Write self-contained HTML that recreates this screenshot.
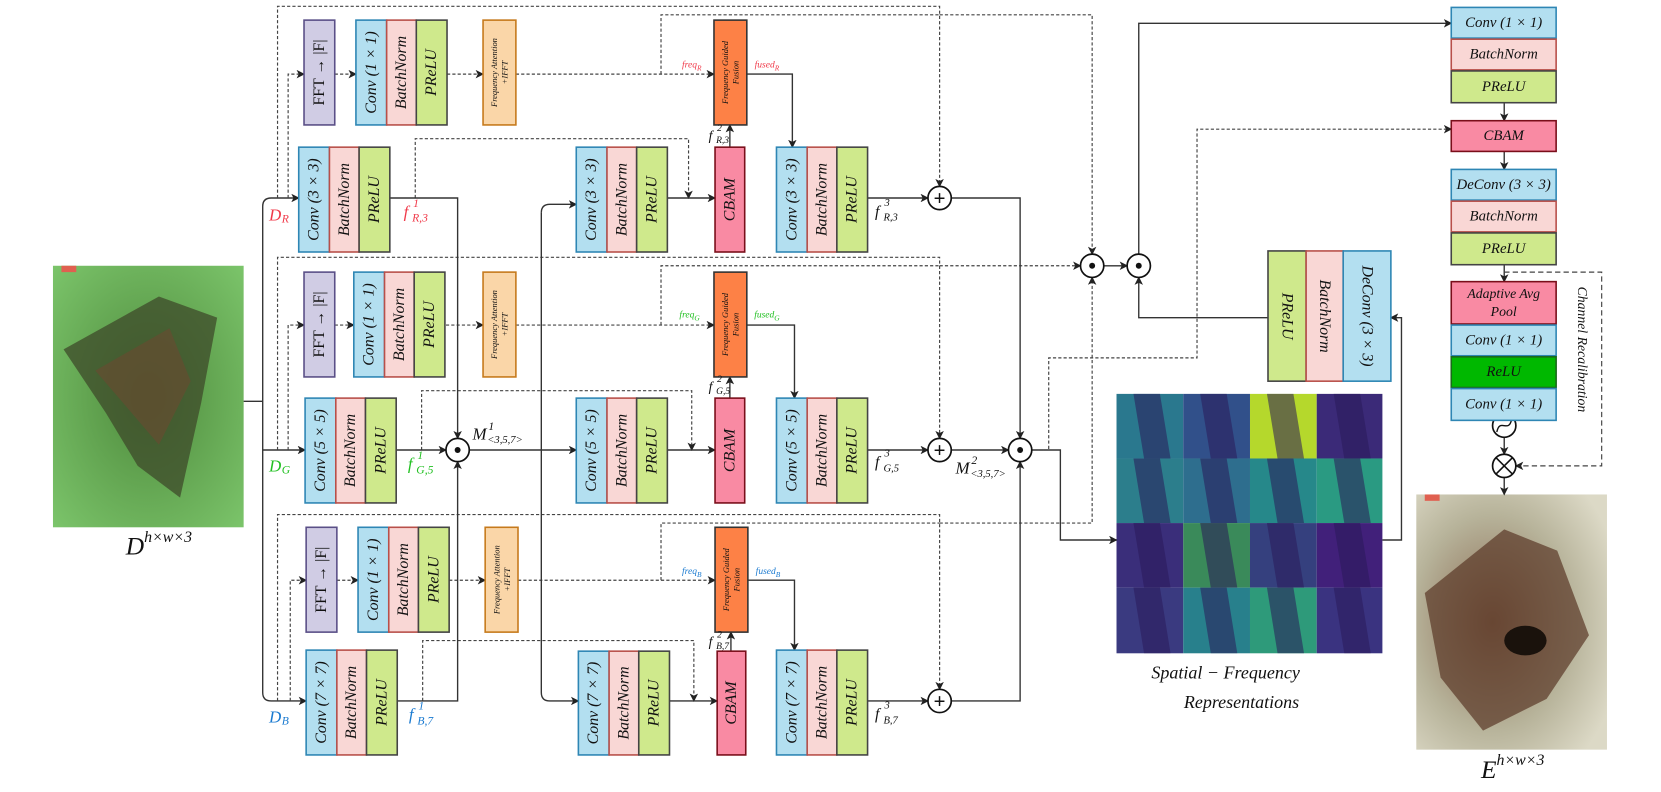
<!DOCTYPE html>
<html><head><meta charset="utf-8"><style>
html,body{margin:0;padding:0;background:#fff;}
svg{display:block}
.c{fill:#b3dff0;stroke:#2e86b4;stroke-width:1.5}
.b{fill:#f9d7d5;stroke:#b8504a;stroke-width:1.5}
.p{fill:#cfe98c;stroke:#444;stroke-width:1.5}
.f{fill:#d0cce4;stroke:#5a4f87;stroke-width:1.5}
.a{fill:#fad6a8;stroke:#c67a1c;stroke-width:1.5}
.g{fill:#fd8146;stroke:#333;stroke-width:1.5}
.m{fill:#f98aa3;stroke:#7a0e1a;stroke-width:1.5}
.r{fill:#00b800;stroke:#1a6a1a;stroke-width:1.5}
text{font-family:"Liberation Serif",serif;font-style:italic;font-size:15px;fill:#111;text-anchor:middle;dominant-baseline:central}
.st{text-anchor:start}
.s{font-size:8px}
.n{font-style:normal}
.L{fill:none;stroke:#333;stroke-width:1.3}
.D{fill:none;stroke:#444;stroke-width:1.1;stroke-dasharray:3,2}
.o{fill:#fff;stroke:#111;stroke-width:1.6}
</style></head><body>
<svg width="1661" height="792" viewBox="0 0 1568 748" preserveAspectRatio="none" xmlns="http://www.w3.org/2000/svg">
<defs>
<marker id="ar" markerWidth="8" markerHeight="8" refX="7" refY="4" orient="auto" markerUnits="userSpaceOnUse"><path d="M0,0 L8,4 L0,8 L2,4 z" fill="#222"/></marker>
<radialGradient id="gi" cx="0.5" cy="0.5" r="0.7"><stop offset="0" stop-color="#4e8a3c"/><stop offset="1" stop-color="#7bc46a"/></radialGradient>
<radialGradient id="go" cx="0.4" cy="0.5" r="0.7"><stop offset="0" stop-color="#8a6a52"/><stop offset="0.6" stop-color="#b7b39a"/><stop offset="1" stop-color="#dcd9c6"/></radialGradient>
</defs>

<!-- input image -->
<rect x="50" y="251" width="180" height="247" fill="url(#gi)"/>
<path d="M60,330 L150,280 L205,300 L190,380 L170,470 L130,440 L100,390 Z" fill="#3e4a2a" opacity="0.75"/>
<path d="M90,350 L160,310 L180,360 L150,420 Z" fill="#6a4a30" opacity="0.6"/>
<rect x="58" y="251" width="14" height="6" fill="#e06050"/>
<text x="150" y="516" style="font-size:24px">D<tspan dy="-9" style="font-size:15px">h×w×3</tspan></text>

<!-- output image -->
<rect x="1337" y="467" width="180" height="241" fill="url(#go)"/>
<path d="M1345,560 L1420,500 L1470,520 L1500,600 L1460,660 L1400,690 L1360,640 Z" fill="#5a3826" opacity="0.7"/>
<ellipse cx="1440" cy="605" rx="20" ry="14" fill="#1a120c"/>
<rect x="1345" y="467" width="14" height="6" fill="#e06050"/>
<text x="1428" y="727" style="font-size:24px">E<tspan dy="-9" style="font-size:15px">h×w×3</tspan></text>

<!-- spatial grid -->
<g>
<rect x="1054" y="372" width="63" height="61" fill="#2a788e"/><rect x="1117" y="372" width="63" height="61" fill="#31508a"/><rect x="1180" y="372" width="63" height="61" fill="#b5d82c"/><rect x="1243" y="372" width="62" height="61" fill="#3b2a78"/>
<rect x="1054" y="433" width="63" height="61" fill="#2c7e8c"/><rect x="1117" y="433" width="63" height="61" fill="#2e6e8e"/><rect x="1180" y="433" width="63" height="61" fill="#26888a"/><rect x="1243" y="433" width="62" height="61" fill="#2a9a82"/>
<rect x="1054" y="494" width="63" height="61" fill="#3a2e7a"/><rect x="1117" y="494" width="63" height="61" fill="#3a8a5a"/><rect x="1180" y="494" width="63" height="61" fill="#35407e"/><rect x="1243" y="494" width="62" height="61" fill="#41207a"/>
<rect x="1054" y="555" width="63" height="62" fill="#3a3a80"/><rect x="1117" y="555" width="63" height="62" fill="#28808c"/><rect x="1180" y="555" width="63" height="62" fill="#2e9a7a"/><rect x="1243" y="555" width="62" height="62" fill="#3a3380"/>
<path d="M1070,372 L1095,372 L1105,433 L1080,433Z M1133,372 L1158,372 L1168,433 L1143,433Z M1196,372 L1221,372 L1231,433 L1206,433Z M1259,372 L1284,372 L1294,433 L1269,433Z M1070,433 L1095,433 L1105,494 L1080,494Z M1133,433 L1158,433 L1168,494 L1143,494Z M1196,433 L1221,433 L1231,494 L1206,494Z M1259,433 L1284,433 L1294,494 L1269,494Z M1070,494 L1095,494 L1105,555 L1080,555Z M1133,494 L1158,494 L1168,555 L1143,555Z M1196,494 L1221,494 L1231,555 L1206,555Z M1259,494 L1284,494 L1294,555 L1269,555Z M1070,555 L1095,555 L1105,617 L1080,617Z M1133,555 L1158,555 L1168,617 L1143,617Z M1196,555 L1221,555 L1231,617 L1206,617Z M1259,555 L1284,555 L1294,617 L1269,617Z" fill="#2a1a5a" opacity="0.55"/>
</g>
<text x="1157" y="635" style="font-size:17px">Spatial − Frequency</text>
<text x="1172" y="663" style="font-size:17px">Representations</text>

<!-- ============ connectors ============ -->
<path class="L" d="M230,379 H248 M248,195 V654 M248,195 Q248,187 256,187 H282" marker-end="url(#ar)"/>
<path class="L" d="M248,425 H288" marker-end="url(#ar)"/>
<path class="L" d="M248,654 Q248,662 256,662 H289" marker-end="url(#ar)"/>
<path class="D" d="M272,187 V70 H287" marker-end="url(#ar)"/>
<path class="D" d="M272,425 V307 H287" marker-end="url(#ar)"/>
<path class="D" d="M274,662 V548 H289" marker-end="url(#ar)"/>
<path class="D" d="M262,187 V6 H887 V176" marker-end="url(#ar)"/>
<path class="D" d="M262,425 V243 H887 V414" marker-end="url(#ar)"/>
<path class="D" d="M262,662 V486 H887 V651" marker-end="url(#ar)"/>
<path class="D" d="M887,14 H1031 V240" marker-end="url(#ar)"/>
<path class="D" d="M887,251 H1020" marker-end="url(#ar)"/>
<path class="D" d="M887,494 H1031 V262" marker-end="url(#ar)"/>
<path class="D" d="M316,70 H336" marker-end="url(#ar)"/><path class="D" d="M422,70 H456" marker-end="url(#ar)"/><path class="D" d="M487,70 H674" marker-end="url(#ar)"/>
<path class="D" d="M316,307 H334" marker-end="url(#ar)"/><path class="D" d="M421,307 H456" marker-end="url(#ar)"/><path class="D" d="M487,307 H674" marker-end="url(#ar)"/>
<path class="D" d="M318,548 H338" marker-end="url(#ar)"/><path class="D" d="M424,548 H458" marker-end="url(#ar)"/><path class="D" d="M489,548 H675" marker-end="url(#ar)"/>
<path class="D" d="M624,70 V14 H887"/>
<path class="D" d="M624,307 V251 H887"/>
<path class="D" d="M624,548 V494 H887"/>
<path class="D" d="M392,187 V131 H650 V187" marker-end="url(#ar)"/>
<path class="D" d="M398,425 V369 H653 V425" marker-end="url(#ar)"/>
<path class="D" d="M399,662 V605 H655 V662" marker-end="url(#ar)"/>
<path class="L" d="M368,187 H432 V414" marker-end="url(#ar)"/>
<path class="L" d="M374,425 H421" marker-end="url(#ar)"/>
<path class="L" d="M375,662 H432 V436" marker-end="url(#ar)"/>
<path class="L" d="M443,425 H544" marker-end="url(#ar)"/>
<path class="L" d="M511,201 V654 Q511,662 519,662 H546" marker-end="url(#ar)"/>
<path class="L" d="M511,201 Q511,193 519,193 H544" marker-end="url(#ar)"/>
<path class="L" d="M630,187 H675" marker-end="url(#ar)"/>
<path class="L" d="M630,425 H675" marker-end="url(#ar)"/>
<path class="L" d="M632,662 H677" marker-end="url(#ar)"/>
<path class="L" d="M689,139 V118" marker-end="url(#ar)"/>
<path class="L" d="M689,376 V356" marker-end="url(#ar)"/>
<path class="L" d="M690,615 V597" marker-end="url(#ar)"/>
<path class="L" d="M705,70 H748 V139" marker-end="url(#ar)"/>
<path class="L" d="M705,307 H750 V376" marker-end="url(#ar)"/>
<path class="L" d="M706,548 H750 V614" marker-end="url(#ar)"/>
<path class="L" d="M819,187 H876" marker-end="url(#ar)"/>
<path class="L" d="M819,425 H876" marker-end="url(#ar)"/>
<path class="L" d="M819,662 H876" marker-end="url(#ar)"/>
<path class="L" d="M898,187 H963 V414" marker-end="url(#ar)"/>
<path class="L" d="M898,425 H952" marker-end="url(#ar)"/>
<path class="L" d="M898,662 H963 V436" marker-end="url(#ar)"/>
<path class="L" d="M974,425 H1001 V510 H1054" marker-end="url(#ar)"/>
<path class="D" d="M976,425 H990 V338 H1130 V122 H1370" marker-end="url(#ar)"/>
<path class="L" d="M1305,510 H1323 V300 H1313" marker-end="url(#ar)"/>
<path class="L" d="M1197,300 H1075 V262" marker-end="url(#ar)"/>
<path class="L" d="M1042,251 H1064" marker-end="url(#ar)"/>
<path class="L" d="M1075,240 V22 H1370" marker-end="url(#ar)"/>
<path class="L" d="M1420,97 V114" marker-end="url(#ar)"/>
<path class="L" d="M1420,143 V160" marker-end="url(#ar)"/>
<path class="L" d="M1420,250 V266" marker-end="url(#ar)"/>
<path class="L" d="M1420,413 V429" marker-end="url(#ar)"/>
<path class="L" d="M1420,451 V467" marker-end="url(#ar)"/>
<path class="D" style="stroke-dasharray:5,3" d="M1420,257 H1512 V440 H1431" marker-end="url(#ar)"/>

<!-- ============ R row ============ -->
<rect class="f" x="287" y="19" width="29" height="99"/><text class="n" transform="translate(301.5,68.5) rotate(-90)">FFT → |F|</text>
<g transform="translate(336,19)"><rect class="c" width="29" height="99"/><rect class="b" x="29" width="28" height="99"/><rect class="p" x="57" width="29" height="99"/><text transform="translate(14.5,49.5) rotate(-90)">Conv (1 × 1)</text><text transform="translate(43,49.5) rotate(-90)">BatchNorm</text><text transform="translate(71.5,49.5) rotate(-90)">PReLU</text></g>
<rect class="a" x="456" y="19" width="31" height="99"/><text class="s" transform="translate(471.5,68.5) rotate(-90)"><tspan x="0" dy="-5">Frequency Attention</tspan><tspan x="0" dy="10">+IFFT</tspan></text>
<rect class="g" x="674" y="19" width="31" height="99"/><text class="s" transform="translate(689.5,68.5) rotate(-90)"><tspan x="0" dy="-5">Frequency Guided</tspan><tspan x="0" dy="10">Fusion</tspan></text>
<g transform="translate(282,139)"><rect class="c" width="29" height="99"/><rect class="b" x="29" width="28" height="99"/><rect class="p" x="57" width="29" height="99"/><text transform="translate(14.5,49.5) rotate(-90)">Conv (3 × 3)</text><text transform="translate(43,49.5) rotate(-90)">BatchNorm</text><text transform="translate(71.5,49.5) rotate(-90)">PReLU</text></g>
<g transform="translate(544,139)"><rect class="c" width="29" height="99"/><rect class="b" x="29" width="28" height="99"/><rect class="p" x="57" width="29" height="99"/><text transform="translate(14.5,49.5) rotate(-90)">Conv (3 × 3)</text><text transform="translate(43,49.5) rotate(-90)">BatchNorm</text><text transform="translate(71.5,49.5) rotate(-90)">PReLU</text></g>
<rect class="m" x="675" y="139" width="28" height="99"/><text transform="translate(689,188.5) rotate(-90)">CBAM</text>
<g transform="translate(733,139)"><rect class="c" width="29" height="99"/><rect class="b" x="29" width="28" height="99"/><rect class="p" x="57" width="29" height="99"/><text transform="translate(14.5,49.5) rotate(-90)">Conv (3 × 3)</text><text transform="translate(43,49.5) rotate(-90)">BatchNorm</text><text transform="translate(71.5,49.5) rotate(-90)">PReLU</text></g>

<!-- ============ G row ============ -->
<rect class="f" x="287" y="257" width="29" height="99"/><text class="n" transform="translate(301.5,306.5) rotate(-90)">FFT → |F|</text>
<g transform="translate(334,257)"><rect class="c" width="29" height="99"/><rect class="b" x="29" width="28" height="99"/><rect class="p" x="57" width="29" height="99"/><text transform="translate(14.5,49.5) rotate(-90)">Conv (1 × 1)</text><text transform="translate(43,49.5) rotate(-90)">BatchNorm</text><text transform="translate(71.5,49.5) rotate(-90)">PReLU</text></g>
<rect class="a" x="456" y="257" width="31" height="99"/><text class="s" transform="translate(471.5,306.5) rotate(-90)"><tspan x="0" dy="-5">Frequency Attention</tspan><tspan x="0" dy="10">+IFFT</tspan></text>
<rect class="g" x="674" y="257" width="31" height="99"/><text class="s" transform="translate(689.5,306.5) rotate(-90)"><tspan x="0" dy="-5">Frequency Guided</tspan><tspan x="0" dy="10">Fusion</tspan></text>
<g transform="translate(288,376)"><rect class="c" width="29" height="99"/><rect class="b" x="29" width="28" height="99"/><rect class="p" x="57" width="29" height="99"/><text transform="translate(14.5,49.5) rotate(-90)">Conv (5 × 5)</text><text transform="translate(43,49.5) rotate(-90)">BatchNorm</text><text transform="translate(71.5,49.5) rotate(-90)">PReLU</text></g>
<g transform="translate(544,376)"><rect class="c" width="29" height="99"/><rect class="b" x="29" width="28" height="99"/><rect class="p" x="57" width="29" height="99"/><text transform="translate(14.5,49.5) rotate(-90)">Conv (5 × 5)</text><text transform="translate(43,49.5) rotate(-90)">BatchNorm</text><text transform="translate(71.5,49.5) rotate(-90)">PReLU</text></g>
<rect class="m" x="675" y="376" width="28" height="99"/><text transform="translate(689,425.5) rotate(-90)">CBAM</text>
<g transform="translate(733,376)"><rect class="c" width="29" height="99"/><rect class="b" x="29" width="28" height="99"/><rect class="p" x="57" width="29" height="99"/><text transform="translate(14.5,49.5) rotate(-90)">Conv (5 × 5)</text><text transform="translate(43,49.5) rotate(-90)">BatchNorm</text><text transform="translate(71.5,49.5) rotate(-90)">PReLU</text></g>

<!-- ============ B row ============ -->
<rect class="f" x="289" y="498" width="29" height="99"/><text class="n" transform="translate(303.5,547.5) rotate(-90)">FFT → |F|</text>
<g transform="translate(338,498)"><rect class="c" width="29" height="99"/><rect class="b" x="29" width="28" height="99"/><rect class="p" x="57" width="29" height="99"/><text transform="translate(14.5,49.5) rotate(-90)">Conv (1 × 1)</text><text transform="translate(43,49.5) rotate(-90)">BatchNorm</text><text transform="translate(71.5,49.5) rotate(-90)">PReLU</text></g>
<rect class="a" x="458" y="498" width="31" height="99"/><text class="s" transform="translate(473.5,547.5) rotate(-90)"><tspan x="0" dy="-5">Frequency Attention</tspan><tspan x="0" dy="10">+IFFT</tspan></text>
<rect class="g" x="675" y="498" width="31" height="99"/><text class="s" transform="translate(690.5,547.5) rotate(-90)"><tspan x="0" dy="-5">Frequency Guided</tspan><tspan x="0" dy="10">Fusion</tspan></text>
<g transform="translate(289,614)"><rect class="c" width="29" height="99"/><rect class="b" x="29" width="28" height="99"/><rect class="p" x="57" width="29" height="99"/><text transform="translate(14.5,49.5) rotate(-90)">Conv (7 × 7)</text><text transform="translate(43,49.5) rotate(-90)">BatchNorm</text><text transform="translate(71.5,49.5) rotate(-90)">PReLU</text></g>
<g transform="translate(546,615)"><rect class="c" width="29" height="98"/><rect class="b" x="29" width="28" height="98"/><rect class="p" x="57" width="29" height="98"/><text transform="translate(14.5,49) rotate(-90)">Conv (7 × 7)</text><text transform="translate(43,49) rotate(-90)">BatchNorm</text><text transform="translate(71.5,49) rotate(-90)">PReLU</text></g>
<rect class="m" x="677" y="615" width="27" height="98"/><text transform="translate(690.5,664) rotate(-90)">CBAM</text>
<g transform="translate(733,614)"><rect class="c" width="29" height="99"/><rect class="b" x="29" width="28" height="99"/><rect class="p" x="57" width="29" height="99"/><text transform="translate(14.5,49.5) rotate(-90)">Conv (7 × 7)</text><text transform="translate(43,49.5) rotate(-90)">BatchNorm</text><text transform="translate(71.5,49.5) rotate(-90)">PReLU</text></g>

<!-- operators -->
<circle class="o" cx="887" cy="187" r="11"/><text class="n" x="887" y="187" style="font-size:20px;font-weight:bold">+</text>
<circle class="o" cx="887" cy="425" r="11"/><text class="n" x="887" y="425" style="font-size:20px;font-weight:bold">+</text>
<circle class="o" cx="887" cy="662" r="11"/><text class="n" x="887" y="662" style="font-size:20px;font-weight:bold">+</text>
<circle class="o" cx="432" cy="425" r="11"/><circle cx="432" cy="425" r="2.8" fill="#111"/>
<circle class="o" cx="963" cy="425" r="11"/><circle cx="963" cy="425" r="2.8" fill="#111"/>
<circle class="o" cx="1031" cy="251" r="11"/><circle cx="1031" cy="251" r="2.8" fill="#111"/>
<circle class="o" cx="1075" cy="251" r="11"/><circle cx="1075" cy="251" r="2.8" fill="#111"/>
<circle class="o" cx="1420" cy="402" r="11"/><path d="M1413,408 C1416,394 1424,410 1427,396" fill="none" stroke="#111" stroke-width="1.3"/>
<circle class="o" cx="1420" cy="440" r="11"/><path d="M1412,432 L1428,448 M1428,432 L1412,448" stroke="#111" stroke-width="1.5"/>

<!-- labels -->
<text class="st" x="254" y="203" style="fill:#f03a4a;font-size:16px">D</text><text class="st" x="266" y="207" style="fill:#f03a4a;font-size:11px">R</text>
<text class="st" x="254" y="440" style="fill:#22c022;font-size:16px">D</text><text class="st" x="266" y="444" style="fill:#22c022;font-size:11px">G</text>
<text class="st" x="254" y="677" style="fill:#1a7ad0;font-size:16px">D</text><text class="st" x="266" y="681" style="fill:#1a7ad0;font-size:11px">B</text>

<text class="st" x="381" y="200" style="fill:#f03a4a;font-size:16px">f</text><text class="st" x="389" y="206" style="fill:#f03a4a;font-size:11px">R,3</text><text class="st" x="390" y="192" style="fill:#f03a4a;font-size:11px">1</text>
<text class="st" x="385" y="438" style="fill:#22c022;font-size:16px">f</text><text class="st" x="393" y="444" style="fill:#22c022;font-size:11px">G,5</text><text class="st" x="394" y="430" style="fill:#22c022;font-size:11px">1</text>
<text class="st" x="386" y="675" style="fill:#1a7ad0;font-size:16px">f</text><text class="st" x="394" y="681" style="fill:#1a7ad0;font-size:11px">B,7</text><text class="st" x="395" y="667" style="fill:#1a7ad0;font-size:11px">1</text>

<text class="st" x="826" y="200" style="font-size:15px">f</text><text class="st" x="834" y="206" style="font-size:10px">R,3</text><text class="st" x="835" y="192" style="font-size:10px">3</text>
<text class="st" x="826" y="437" style="font-size:15px">f</text><text class="st" x="834" y="443" style="font-size:10px">G,5</text><text class="st" x="835" y="429" style="font-size:10px">3</text>
<text class="st" x="826" y="675" style="font-size:15px">f</text><text class="st" x="834" y="681" style="font-size:10px">B,7</text><text class="st" x="835" y="667" style="font-size:10px">3</text>

<text class="st" x="669" y="128" style="font-size:13px">f</text><text class="st" x="676" y="133" style="font-size:9px">R,3</text><text class="st" x="677" y="122" style="font-size:9px">2</text>
<text class="st" x="669" y="365" style="font-size:13px">f</text><text class="st" x="676" y="370" style="font-size:9px">G,5</text><text class="st" x="677" y="359" style="font-size:9px">2</text>
<text class="st" x="669" y="606" style="font-size:13px">f</text><text class="st" x="676" y="611" style="font-size:9px">B,7</text><text class="st" x="677" y="600" style="font-size:9px">2</text>

<text class="st" x="446" y="410" style="font-size:16px">M</text><text class="st" x="461" y="403" style="font-size:11px">1</text><text class="st" x="460" y="416" style="font-size:10px">&lt;3,5,7&gt;</text>
<text class="st" x="902" y="442" style="font-size:16px">M</text><text class="st" x="917" y="435" style="font-size:11px">2</text><text class="st" x="916" y="448" style="font-size:10px">&lt;3,5,7&gt;</text>

<text x="653" y="62" style="fill:#f03a4a;font-size:9px">freq<tspan dy="2" style="font-size:7px">R</tspan></text>
<text x="724" y="62" style="fill:#f03a4a;font-size:9px">fused<tspan dy="2" style="font-size:7px">R</tspan></text>
<text x="651" y="298" style="fill:#22c022;font-size:9px">freq<tspan dy="2" style="font-size:7px">G</tspan></text>
<text x="724" y="298" style="fill:#22c022;font-size:9px">fused<tspan dy="2" style="font-size:7px">G</tspan></text>
<text x="653" y="540" style="fill:#1a7ad0;font-size:9px">freq<tspan dy="2" style="font-size:7px">B</tspan></text>
<text x="725" y="540" style="fill:#1a7ad0;font-size:9px">fused<tspan dy="2" style="font-size:7px">B</tspan></text>

<!-- deconv horizontal -->
<rect class="p" x="1197" y="237" width="36" height="123"/><rect class="b" x="1233" y="237" width="35" height="123"/><rect class="c" x="1268" y="237" width="45" height="123"/>
<text transform="translate(1215,298.5) rotate(90)">PReLU</text>
<text transform="translate(1250.5,298.5) rotate(90)">BatchNorm</text>
<text transform="translate(1290.5,298.5) rotate(90)">DeConv (3 × 3)</text>

<!-- right column -->
<rect class="c" x="1370" y="7" width="99" height="29"/><text x="1419.5" y="21.5" style="font-size:14px">Conv (1 × 1)</text>
<rect class="b" x="1370" y="37" width="99" height="29"/><text x="1419.5" y="51.5" style="font-size:14px">BatchNorm</text>
<rect class="p" x="1370" y="67" width="99" height="30"/><text x="1419.5" y="82" style="font-size:14px">PReLU</text>
<rect class="m" x="1370" y="114" width="99" height="29"/><text x="1419.5" y="128.5" style="font-size:14px">CBAM</text>
<rect class="c" x="1370" y="160" width="99" height="29"/><text x="1419.5" y="174.5" style="font-size:14px">DeConv (3 × 3)</text>
<rect class="b" x="1370" y="190" width="99" height="29"/><text x="1419.5" y="204.5" style="font-size:14px">BatchNorm</text>
<rect class="p" x="1370" y="220" width="99" height="30"/><text x="1419.5" y="235" style="font-size:14px">PReLU</text>
<rect class="m" x="1370" y="266" width="99" height="40"/><text x="1419.5" y="277" style="font-size:13px">Adaptive Avg</text><text x="1419.5" y="294" style="font-size:13px">Pool</text>
<rect class="c" x="1370" y="307" width="99" height="29"/><text x="1419.5" y="321.5" style="font-size:14px">Conv (1 × 1)</text>
<rect class="r" x="1370" y="337" width="99" height="29"/><text x="1419.5" y="351.5" style="font-size:14px">ReLU</text>
<rect class="c" x="1370" y="367" width="99" height="30"/><text x="1419.5" y="382" style="font-size:14px">Conv (1 × 1)</text>
<text transform="translate(1494,330) rotate(90)" style="font-size:13px">Channel Recalibration</text>
</svg>
</body></html>
